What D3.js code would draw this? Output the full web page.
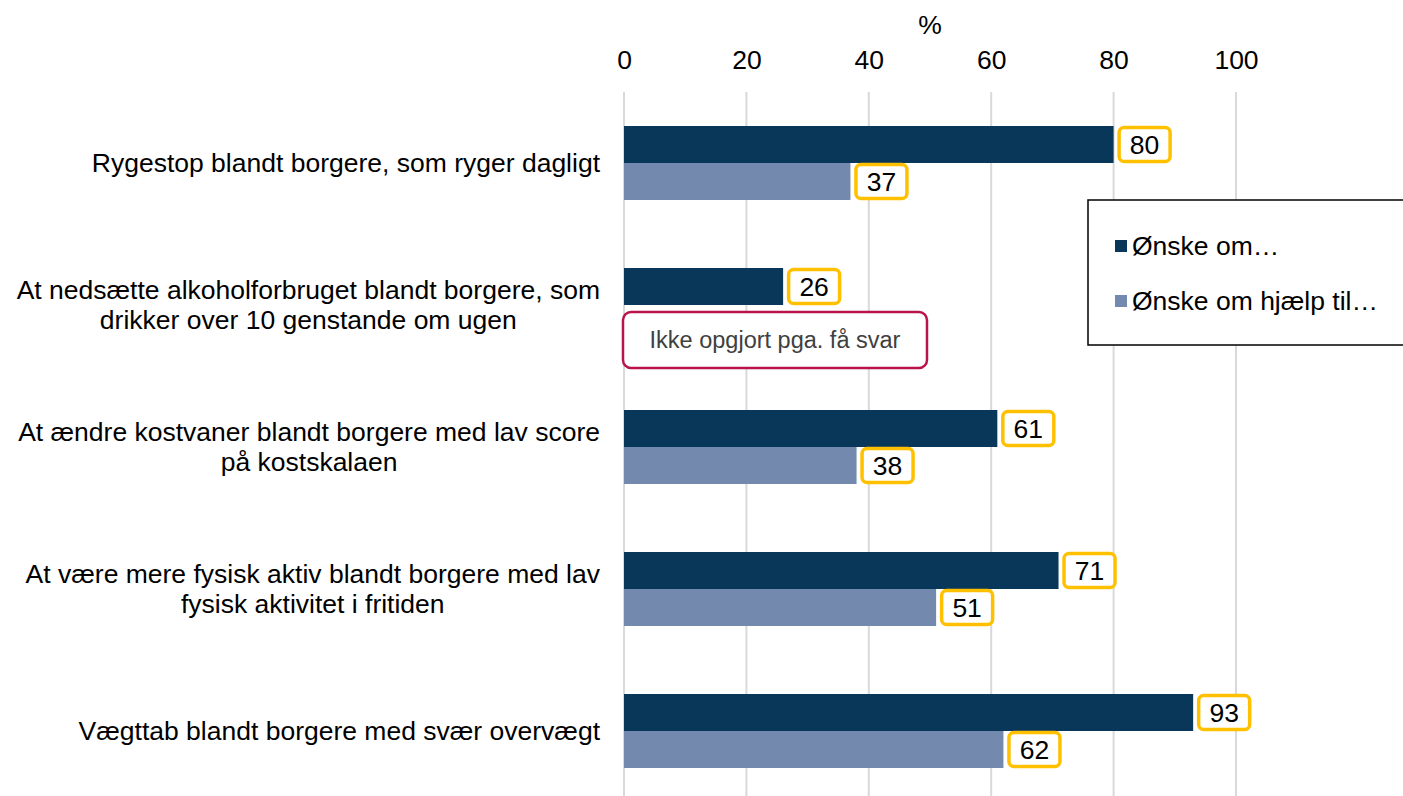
<!DOCTYPE html>
<html lang="da">
<head>
  <meta charset="utf-8">
  <script src="https://d3js.org/d3.v7.min.js"></script>
  <style>
    body { margin: 0; background: #fff; }
    text { font-family: "Liberation Sans", Arial, sans-serif; }
  </style>
</head>
<body>
<script>

var width = 1403,
    height = 796;

// data
var categories = [
  ["Rygestop blandt borgere, som ryger dagligt"],
  ["At nedsætte alkoholforbruget blandt borgere, som", "drikker over 10 genstande om ugen"],
  ["At ændre kostvaner blandt borgere med lav score", "på kostskalaen"],
  ["At være mere fysisk aktiv blandt borgere med lav", "fysisk aktivitet i fritiden"],
  ["Vægttab blandt borgere med svær overvægt"]
];
var wish = [80, 26, 61, 71, 93];
var wishHelp = [37, null, 38, 51, 62];
var seriesNames = ["Ønske om…", "Ønske om hjælp til…"];
var seriesColors = ["#08375a", "#7389ae"];
var tickValues = [0, 20, 40, 60, 80, 100];
var noteText = "Ikke opgjort pga. få svar";

var fs = 26.5;

var svg = d3.select("body").append("svg")
    .attr("width", width)
    .attr("height", height);

var x = d3.scaleLinear()
    .domain([0, 100])
    .range([624, 1236]);

var y = d3.scaleBand()
    .domain(d3.range(categories.length))
    .range([92, 802])
    .padding(0);

var barH = 37;

// gridlines
svg.append("g")
  .selectAll("line")
    .data(tickValues)
  .enter().append("line")
    .attr("x1", function(d) { return x(d); })
    .attr("x2", function(d) { return x(d); })
    .attr("y1", 92)
    .attr("y2", height)
    .attr("stroke", "#d9d9d9")
    .attr("stroke-width", 2);

// top axis
var axis = d3.axisTop(x).tickValues(tickValues).tickSize(0).tickPadding(0);
var ax = svg.append("g")
    .attr("transform", "translate(0,69)")
    .call(axis);
ax.select(".domain").remove();
ax.selectAll("text")
    .attr("font-family", "'Liberation Sans', Arial, sans-serif")
    .attr("font-size", fs)
    .attr("fill", "#000");

svg.append("text")
    .attr("x", 930)
    .attr("y", 34)
    .attr("text-anchor", "middle")
    .attr("font-size", fs)
    .text("%");

// category labels
categories.forEach(function(lines, i) {
  var cy = y(i) + y.bandwidth() / 2;
  var t = svg.append("text")
      .attr("font-size", fs)
      .attr("fill", "#000")
      .attr("text-anchor", "middle");
  var lh = 30;
  var y0 = cy - (lines.length - 1) * lh / 2 + 9;
  lines.forEach(function(l, j) {
    t.append("tspan").attr("y", y0 + j * lh).text(l);
  });
  // center lines on the widest line, right edge at 600
  var maxW = 0;
  t.selectAll("tspan").each(function() { maxW = Math.max(maxW, this.getComputedTextLength()); });
  t.selectAll("tspan").attr("x", 600 - maxW / 2);
});

// bars and value boxes
var series = [wish, wishHelp];
series.forEach(function(vals, s) {
  vals.forEach(function(v, i) {
    if (v === null) return;
    var top = y(i) + y.bandwidth() / 2 - barH + s * barH;
    svg.append("rect")
        .attr("x", x(0))
        .attr("y", top)
        .attr("width", x(v) - x(0))
        .attr("height", barH)
        .attr("fill", seriesColors[s]);
    var bx = x(v) + 4;
    svg.append("rect")
        .attr("x", bx + 1.5)
        .attr("y", top + 1.5)
        .attr("width", 51)
        .attr("height", barH - 3)
        .attr("rx", 5)
        .attr("fill", "#fff")
        .attr("stroke", "#ffc000")
        .attr("stroke-width", 3.5);
    svg.append("text")
        .attr("x", bx + 27)
        .attr("y", top + barH / 2 + 9.5)
        .attr("text-anchor", "middle")
        .attr("font-size", fs)
        .attr("fill", "#000")
        .text(v);
  });
});

// note box for missing value
var ni = wishHelp.indexOf(null);
var ny = y(ni) + y.bandwidth() / 2 + 7;
svg.append("rect")
    .attr("x", 623)
    .attr("y", ny)
    .attr("width", 304)
    .attr("height", 56)
    .attr("rx", 8)
    .attr("fill", "#fff")
    .attr("stroke", "#b8134a")
    .attr("stroke-width", 2.5);
svg.append("text")
    .attr("x", 775)
    .attr("y", ny + 36)
    .attr("text-anchor", "middle")
    .attr("font-family", "'Open Sans', 'Noto Sans', sans-serif")
    .attr("font-size", 23.5)
    .attr("fill", "#404040")
    .text(noteText);

// legend
var lg = svg.append("g").attr("transform", "translate(1088,200)");
lg.append("rect")
    .attr("width", 330)
    .attr("height", 145)
    .attr("fill", "#fff")
    .attr("stroke", "#000")
    .attr("stroke-width", 1.5);
seriesNames.forEach(function(n, i) {
  lg.append("rect")
      .attr("x", 27)
      .attr("y", 40 + i * 55)
      .attr("width", 12)
      .attr("height", 12)
      .attr("fill", seriesColors[i]);
  lg.append("text")
      .attr("x", 44)
      .attr("y", 55 + i * 55)
      .attr("font-size", fs)
      .attr("fill", "#000")
      .text(n);
});

</script>
</body>
</html>
